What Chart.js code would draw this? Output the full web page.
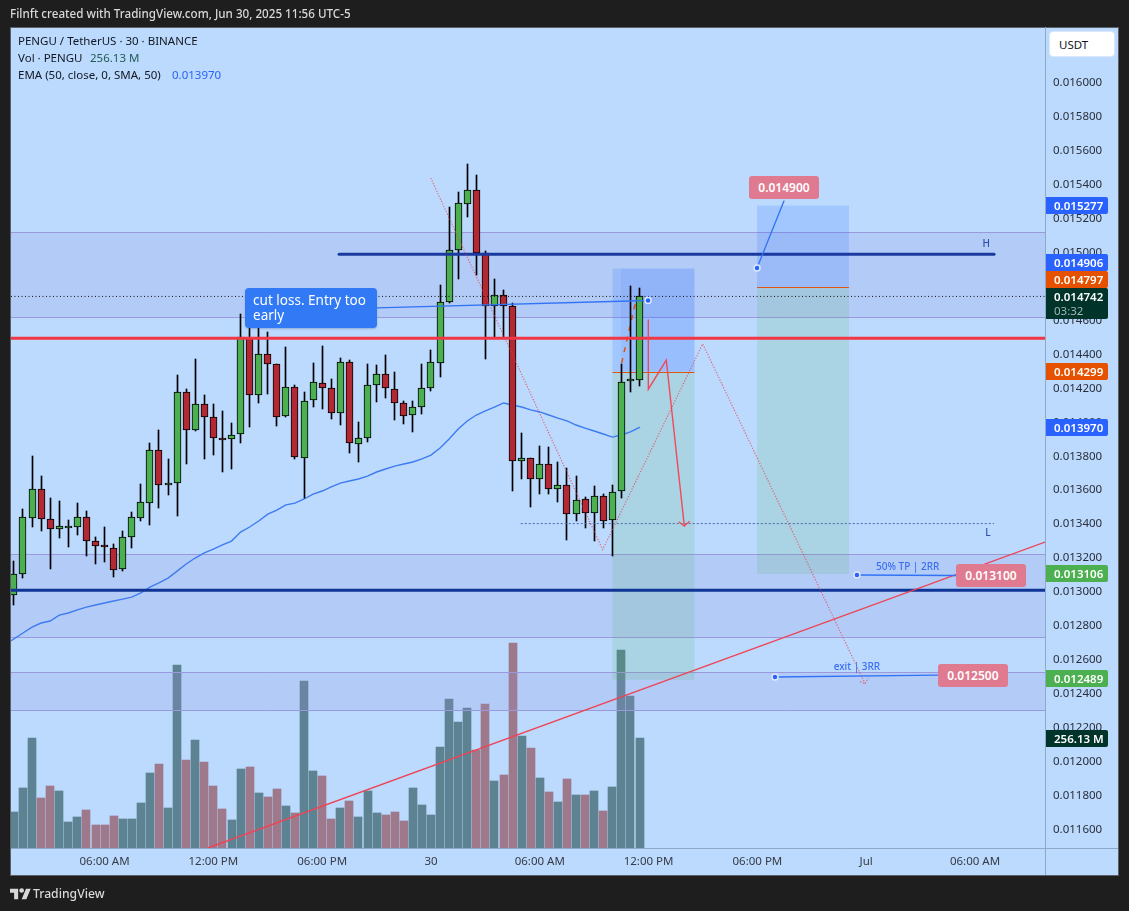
<!DOCTYPE html>
<html><head><meta charset="utf-8">
<style>
html,body{margin:0;padding:0;background:#1e1e1e;width:1129px;height:911px;overflow:hidden}
#wrap{position:relative;width:1129px;height:911px}
canvas{display:block;position:absolute;left:0;top:0}
.t{position:absolute;white-space:nowrap;font-family:"Noto Sans",sans-serif;font-size:11.5px;line-height:17px}
.tag{position:absolute;left:1046px;width:62px;height:17px;line-height:17px;color:#fff;font-weight:600;font-family:"Noto Sans",sans-serif;font-size:11.5px;padding-left:8px;box-sizing:border-box;border-radius:0 2px 2px 0}
.pink{position:absolute;width:70px;height:23px;line-height:23px;background:#df7a90;color:#fff;font-weight:600;text-align:center;border-radius:3px;font-family:"Noto Sans",sans-serif;font-size:12px}
</style>
</head><body><div id="wrap"><canvas id="c" width="1129" height="911"></canvas></div>
<script src="https://cdn.jsdelivr.net/npm/chart.js@4"></script>
<script>
const opens=[.012980,.013104,.013434,.013605,.013428,.013369,.013379,.013381,.013440,.013298,.013269,.013257,.013133,.013322,.013434,.013522,.013835,.013629,.013640,.014177,.013953,.014106,.014029,.013900,.013900,.013929,.014495,.014159,.014401,.014342,.014035,.014206,.013788,.014130,.014230,.014200,.014053,.014353,.013870,.013905,.014218,.014283,.014194,.014112,.014041,.014088,.014200,.014347,.014707,.015014,.015285,.015367,.014996,.014683,.014748,.014685,.013770,.013787,.013664,.013752,.013605,.013628,.013457,.013546,.013463,.013563,.013422,.013593,.014245,.014247];
const highs=[.013182,.013489,.013801,.013684,.013554,.013536,.013424,.013524,.013477,.013324,.013383,.013283,.013359,.013471,.013636,.013878,.013955,.013784,.014279,.014196,.014373,.014161,.014108,.014067,.013996,.014639,.014584,.014558,.014532,.014344,.014444,.014220,.014179,.014350,.014450,.014255,.014377,.014367,.014002,.014343,.014338,.014397,.014296,.014125,.014125,.014343,.014426,.014809,.015269,.015357,.015522,.015458,.015010,.014845,.014780,.014701,.013937,.013787,.013860,.013854,.013766,.013730,.013683,.013559,.013624,.013577,.013630,.014343,.014803,.014791];
const lows=[.012923,.013084,.013385,.013361,.013137,.013320,.013267,.013336,.013212,.013165,.013177,.013090,.013126,.013259,.013418,.013395,.013495,.013572,.013448,.013754,.013951,.013784,.013807,.013707,.013725,.013878,.013972,.014114,.014167,.013978,.014033,.013784,.013554,.014090,.014079,.014019,.013984,.013819,.013766,.013884,.014119,.014143,.014013,.013990,.013943,.014049,.014184,.014267,.014703,.014845,.015210,.014868,.014373,.014495,.014505,.013595,.013666,.013500,.013577,.013577,.013530,.013306,.013418,.013377,.013300,.013377,.013212,.013554,.014178,.014214];
const closes=[.013104,.013440,.013605,.013428,.013369,.013387,.013381,.013440,.013298,.013269,.013263,.013128,.013322,.013440,.013528,.013835,.013629,.013640,.014177,.013953,.014106,.014029,.013906,.013898,.013923,.014501,.014159,.014401,.014342,.014029,.014206,.013794,.014124,.014236,.014200,.014053,.014353,.013876,.013905,.014218,.014283,.014200,.014112,.014035,.014088,.014200,.014353,.014707,.015014,.015291,.015367,.014996,.014685,.014748,.014683,.013770,.013787,.013664,.013752,.013605,.013628,.013457,.013540,.013463,.013563,.013416,.013587,.014235,.014247,.014742];
const volumes=[84.6,140.5,256.9,117.2,145.2,133.5,61.3,73,89.3,54.3,54.3,75.3,68.3,68.3,105.6,175.4,196.4,93.9,426.9,205.7,252.3,201,145.2,91.6,66,184.7,189.4,128.9,119.5,138.2,98.6,82.3,389.7,180.1,168.4,68.3,93.9,110.2,73,133.5,82.3,77.6,84.6,63.6,140.5,100.9,77.6,236,347.7,294.2,326.8,229,336.1,156.8,170.8,478.1,261.6,233.6,163.8,131.2,107.9,161.4,124.2,124.2,133.5,86.9,142.8,461.8,354.7,256.13];
const volumeUp=[1,1,1,0,0,1,1,1,0,0,0,0,1,1,1,1,0,1,1,0,1,0,0,0,1,1,0,1,0,0,1,0,1,1,0,0,1,0,1,1,1,0,0,0,1,1,1,1,1,1,1,0,0,1,0,0,1,0,1,0,1,0,1,0,1,0,1,1,1,1];
const emaValues=[.012723,.012758,.012793,.012817,.012829,.012864,.012876,.012894,.012911,.012923,.012935,.012947,.012958,.012970,.012994,.013029,.013053,.013082,.013123,.013165,.013200,.013230,.013253,.013277,.013300,.013353,.013383,.013418,.013459,.013483,.013513,.013524,.013548,.013577,.013595,.013619,.013642,.013654,.013666,.013683,.013707,.013725,.013742,.013754,.013766,.013784,.013807,.013848,.013902,.013961,.014008,.014043,.014067,.014090,.014114,.014102,.014090,.014073,.014061,.014043,.014025,.014008,.013984,.013966,.013949,.013931,.013913,.013925,.013943,.013970];
const priceTicks=[.016,.0158,.0156,.0154,.0152,.015,.0148,.0146,.0144,.0142,.014,.0138,.0136,.0134,.0132,.013,.0128,.0126,.0124,.0122,.012,.0118,.0116];
const timeTickBars=[10,22,34,46,58,70,82,94,106];
const timeTickLabels=["06:00 AM","12:00 PM","06:00 PM","30","06:00 AM","12:00 PM","06:00 PM","Jul","06:00 AM"];
const zoneTops=[.015119,.013221,.012528];
const zoneBottoms=[.014618,.012737,.012307];
const fullLinePrices=[.014742,.014495,.013010];
const highLine=[[35.86,.014990],[108.1,.014990]];
const lowLine=[[55.9,.013403],[108.1,.013403]];
const trendLine=[[21.4,.011491],[113.72,.013294]];
const dottedPath=[[45.97,.015440],[64.94,.013250],[75.97,.014462],[93.87,.012460]];
const dottedHead=[[93.32,.012471],[93.87,.012460],[94.24,.012493]];
const redPath=[[69.97,.014603],[69.97,.014195],[71.95,.014367],[73.94,.013389]];
const redHead=[[73.35,.013412],[73.94,.013389],[74.5,.013415]];
const orangeDash=[[67.03,.014350],[68.69,.014740]];
const cutLine=[[69.94,.014718],[40.05,.014674]];
const stopLine=[[81.96,.014910],[84.93,.015304]];
const tpLine=[[92.98,.013100],[103.9,.013097]];
const exitLine=[[83.94,.012499],[101.9,.012510]];
const positionBars=[[66.02,75.06],[81.96,92.1]];
const positionPrices=[[.014906,.014299,.012482],[.015277,.014797,.013106]];
const xLimits=[-0.32,113.72];
const yLimits=[.011491,.016324];
const volumeMax=1909;

const pts=a=>a.map(p=>({x:p[0],y:p[1]}));
function line(data,color,width,dash,order,dotFirst){
  return {type:'line',data:pts(data),borderColor:color,borderWidth:width,borderDash:dash||[],order:order,tension:0,
    pointRadius:c=>dotFirst&&c.dataIndex===0?3:0,pointHoverRadius:0,pointBackgroundColor:'#2962ff',pointBorderColor:'#dfe9ff',pointBorderWidth:1.5,borderCapStyle:dash?'butt':'round'};
}
const green='#4caf50',red='#b22833';
const fullX=[xLimits[0],xLimits[1]];
const datasets=[
 {type:'bar',data:volumes.map((v,i)=>({x:i,y:v})),yAxisID:'y1',backgroundColor:volumeUp.map(u=>u?'#5d8393':'#9e788b'),barThickness:8,grouped:false,order:20},
 line([[-1,.012690],...emaValues.map((v,i)=>[i,v])],'#3f7bf0',1.4,null,15),
 line(orangeDash,'#e65100',1.5,[5,6],14),
 {type:'bar',data:lows.map((l,i)=>({x:i,y:[l,highs[i]]})),backgroundColor:'#000',barThickness:1,grouped:false,order:12},
 {type:'bar',data:opens.map((o,i)=>({x:i,y:[o,closes[i]]})),backgroundColor:opens.map((o,i)=>closes[i]>=o?green:red),borderColor:'#000',borderWidth:1,borderSkipped:false,barThickness:7,minBarLength:1.6,grouped:false,order:11},
 line([[fullX[0],fullLinePrices[0]],[fullX[1],fullLinePrices[0]]],'#111',1,[1,2.5],9),
 line(lowLine,'#4a68ad',1,[2,2],9),
 line(highLine,'#1a3a9f',3,null,8),
 line([[fullX[0],fullLinePrices[2]],[fullX[1],fullLinePrices[2]]],'#0f3596',3,null,8),
 line([[fullX[0],fullLinePrices[1]],[fullX[1],fullLinePrices[1]]],'#f23645',3,null,8),
 line(trendLine,'#ee4455',1.4,null,7),
 line(dottedPath,'rgba(242,54,69,.7)',1.2,[1.2,1.6],7),
 line(dottedHead,'rgba(242,54,69,.7)',1.2,[1.2,1.6],7),
 line(redPath,'#f0485a',1.4,null,7),
 line(redHead,'#f0485a',1.2,null,7),
 line(cutLine,'#3273f6',1.3,null,6,true),
 line(stopLine,'#3273f6',1.3,null,6,true),
 line(tpLine,'#3273f6',1.3,null,6,true),
 line(exitLine,'#3273f6',1.3,null,6,true)
];
const framePlugin={id:'frame',
 afterDatasetsUpdate(ch){
  // pixel-snap the bars the way the original renderer does
  ch.getDatasetMeta(0).data.forEach(el=>{el.x=Math.round(el.x);el.y=Math.round(el.y);el.base=Math.round(el.base);});
  [3,4].forEach(k=>ch.getDatasetMeta(k).data.forEach(el=>{el.x=Math.floor(el.x)+.5;el.y=Math.round(el.y);el.base=Math.round(el.base);
    if(k===4&&Math.abs(el.base-el.y)<2)el.y=el.base-2;}));
 },
 beforeDraw(ch){const g=ch.ctx;g.save();g.fillStyle='#1e1e1e';g.fillRect(0,0,1129,911);
  g.fillStyle='#bbdafe';g.fillRect(10,27,1109,849);
  g.strokeStyle='#5b6067';g.lineWidth=1;g.strokeRect(10.5,27.5,1108,848);g.restore();},
 afterDatasetDraw(ch,args){ if(args.index!==0)return;
  const g=ch.ctx,x=ch.scales.x,y=ch.scales.y,a=ch.chartArea;g.save();
  g.beginPath();g.rect(a.left,a.top,a.width,a.height);g.clip();
  zoneTops.forEach((t,i)=>{const y1=Math.round(y.getPixelForValue(t))+.5,y2=Math.round(y.getPixelForValue(zoneBottoms[i]))+.5;
   g.fillStyle='rgba(149,152,218,.2)';g.fillRect(a.left,y1,a.width,y2-y1);
   g.strokeStyle='#9b98dd';g.lineWidth=1;g.beginPath();g.moveTo(a.left,y1);g.lineTo(a.right,y1);g.moveTo(a.left,y2);g.lineTo(a.right,y2);g.stroke();});
  positionBars.forEach((b,i)=>{const xa=x.getPixelForValue(b[0]),xb=x.getPixelForValue(b[1]),p=positionPrices[i];
   const t=y.getPixelForValue(p[0]),e=y.getPixelForValue(p[1]),l=y.getPixelForValue(p[2]);
   g.fillStyle='rgba(41,98,255,.17)';g.fillRect(xa,t,xb-xa,e-t);
   if(i===0){const xi=x.getPixelForValue(b[0]+.94);g.fillStyle='rgba(41,98,255,.08)';g.fillRect(xi,t,xb-xi,e-t);}
   g.fillStyle='rgba(76,175,80,.15)';g.fillRect(xa,e,xb-xa,l-e);
   g.strokeStyle='#e0560f';g.lineWidth=1;g.beginPath();g.moveTo(xa,Math.round(e)+.5);g.lineTo(xb,Math.round(e)+.5);g.stroke();});
  g.restore();},
 afterDraw(ch){const g=ch.ctx,a=ch.chartArea;g.save();g.strokeStyle='#8fa8c8';g.lineWidth=1;g.beginPath();
  g.moveTo(a.right+.5,27);g.lineTo(a.right+.5,875);g.moveTo(11,a.bottom+.5);g.lineTo(1118,a.bottom+.5);g.stroke();g.restore();}
};
Chart.defaults.font.family='"Noto Sans",sans-serif';
const chart=new Chart(document.getElementById('c'),{type:'bar',data:{datasets},plugins:[framePlugin],options:{
 responsive:false,animation:false,devicePixelRatio:1,events:[],
 layout:{padding:{left:11,top:28,right:11,bottom:36}},
 plugins:{legend:{display:false},tooltip:{enabled:false},title:{display:false}},
 scales:{
  x:{type:'linear',offset:false,min:xLimits[0],max:xLimits[1],grid:{display:false,drawTicks:false},border:{display:false},
   afterBuildTicks:s=>{s.ticks=timeTickBars.map(v=>({value:v}));},
   afterFit:s=>{s.height=27;},
   ticks:{autoSkip:false,maxRotation:0,padding:7,color:'#363b45',font:{size:11.5},callback:v=>timeTickLabels[timeTickBars.indexOf(v)]}},
  y:{type:'linear',position:'right',min:yLimits[0],max:yLimits[1],grid:{display:false,drawTicks:false},border:{display:false},
   afterBuildTicks:s=>{s.ticks=priceTicks.map(v=>({value:v}));},
   afterFit:s=>{s.width=73;},
   ticks:{autoSkip:false,padding:8,color:'#2a2e39',font:{size:11.5},callback:v=>v.toFixed(6)}},
  y1:{type:'linear',display:false,position:'right',min:0,max:volumeMax,grid:{display:false}}
 }}});

const wrap=document.getElementById('wrap'),sx=chart.scales.x,sy=chart.scales.y;
function txt(s,css,cls){const d=document.createElement('div');d.className=cls||'t';d.textContent=s;d.style.cssText+=css;wrap.appendChild(d);return d;}
txt('Filnft created with TradingView.com, Jun 30, 2025 11:56 UTC-5','left:10px;top:5px;color:#d8d8d8;font-weight:500;font-size:11.65px;');
txt('PENGU / TetherUS · 30 · BINANCE','left:18px;top:32px;color:#131722;');
txt('Vol · PENGU','left:18px;top:49px;color:#131722;');
txt('256.13 M','left:90px;top:49px;color:#1f5a50;');
txt('EMA (50, close, 0, SMA, 50)','left:18px;top:66px;color:#131722;');
txt('0.013970','left:172px;top:66px;color:#2962ff;');
// currency button
txt('USDT','left:1049px;top:31px;width:66px;height:26px;line-height:26px;padding-left:9px;box-sizing:border-box;background:#fff;border:1px solid #dbe7fb;border-radius:4px;color:#131722;');
// right-hand price tags, anchored on the price scale
const tagPrices=[.015277,.014906,.014797,.014299,.013970,.013106,.012489];
const tagColors=['#2962ff','#2962ff','#e65100','#e65100','#2962ff','#4caf50','#4caf50'];
const tagShift=[0,-6.5,-8,0,0,0,0];
tagPrices.forEach((p,i)=>{const py=sy.getPixelForValue(p)+tagShift[i]-8.5;
 txt(p.toFixed(6),`top:${py}px;background:${tagColors[i]};`,'tag');});
const lastY=sy.getPixelForValue(closes[closes.length-1]);
txt(closes[closes.length-1].toFixed(6),`top:${lastY-8.5}px;height:31px;background:#00332a;`,'tag');
txt('03:32',`left:1054px;top:${lastY+6}px;color:#9fb8b0;`);
txt('256.13 M','top:730px;background:#00332a;','tag');
// drawing labels anchored on bar/price coordinates
function pink(bar,price,s){txt(s,`left:${sx.getPixelForValue(bar)}px;top:${sy.getPixelForValue(price)-11.5}px;`,'pink');}
pink(81.07,.015381,'0.014900');
pink(103.9,.013100,'0.013100');
pink(101.9,.012510,'0.012500');
const cx=sx.getPixelForValue(25.5),cy=sy.getPixelForValue(.014674);
txt('cut loss. Entry too\nearly',`left:${cx}px;top:${cy-20}px;width:132px;height:40px;padding:5px 8px;box-sizing:border-box;line-height:15px;white-space:pre;background:#3179f5;color:#fff;border-radius:4px;font-size:13.5px;box-shadow:0 1px 2px rgba(40,70,130,.3);`);
function lab(bar,price,s,color,size){const d=txt(s,`color:${color};font-size:${size||10}px;font-weight:500;`);
 d.style.left=(sx.getPixelForValue(bar)-d.offsetWidth/2)+'px';d.style.top=(sy.getPixelForValue(price)-8.5)+'px';}
lab(98.55,.013153,'50% TP | 2RR','#3a6ef0');
lab(93.0,.012560,'exit | 3RR','#3a6ef0');
lab(107.2,.015056,'H','#2f4db0');
lab(107.4,.013352,'L','#2f4db0');
// footer
const f=document.createElement('div');f.style.cssText='position:absolute;left:10px;top:887px;width:20px;height:12px';
f.innerHTML='<svg width="21" height="14" viewBox="0 3 36 20" xmlns="http://www.w3.org/2000/svg"><path fill="#d8d8d8" d="M14 22H7V11H0V4h14v18zM28 22h-8l7.5-18h8L28 22z"/><circle fill="#d8d8d8" cx="20" cy="7" r="4"/></svg>';
wrap.appendChild(f);
txt('TradingView','left:33px;top:885px;color:#d8d8d8;font-size:12.2px;font-weight:500;');
</script></body></html>
